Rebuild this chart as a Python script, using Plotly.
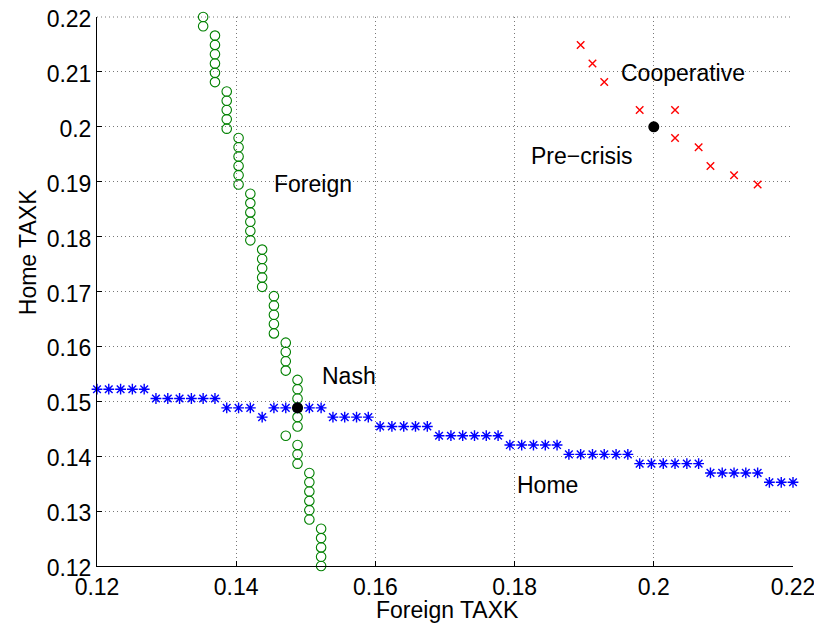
import plotly.graph_objects as go

# Home best response (blue stars): foreign tax on x, home tax on y
home_x = [0.12000, 0.12169, 0.12339, 0.12508, 0.12678, 0.12847, 0.13017, 0.13186, 0.13356, 0.13525,
          0.13695, 0.13864, 0.14034, 0.14203, 0.14373, 0.14542, 0.14712, 0.14881, 0.15051, 0.15220,
          0.15390, 0.15559, 0.15729, 0.15898, 0.16068, 0.16237, 0.16407, 0.16576, 0.16746, 0.16915,
          0.17085, 0.17254, 0.17424, 0.17593, 0.17763, 0.17932, 0.18102, 0.18271, 0.18441, 0.18610,
          0.18780, 0.18949, 0.19119, 0.19288, 0.19458, 0.19627, 0.19797, 0.19966, 0.20136, 0.20305,
          0.20475, 0.20644, 0.20814, 0.20983, 0.21153, 0.21322, 0.21492, 0.21661, 0.21831, 0.22000]
home_y = [0.15220, 0.15220, 0.15220, 0.15220, 0.15220,
          0.15051, 0.15051, 0.15051, 0.15051, 0.15051, 0.15051,
          0.14881, 0.14881, 0.14881,
          0.14712,
          0.14881, 0.14881, 0.14881, 0.14881, 0.14881,
          0.14712, 0.14712, 0.14712, 0.14712,
          0.14542, 0.14542, 0.14542, 0.14542, 0.14542,
          0.14373, 0.14373, 0.14373, 0.14373, 0.14373, 0.14373,
          0.14203, 0.14203, 0.14203, 0.14203, 0.14203,
          0.14034, 0.14034, 0.14034, 0.14034, 0.14034, 0.14034,
          0.13864, 0.13864, 0.13864, 0.13864, 0.13864, 0.13864,
          0.13695, 0.13695, 0.13695, 0.13695, 0.13695,
          0.13525, 0.13525, 0.13525]

# Foreign best response (green circles): home tax on y, foreign tax on x
foreign_y = list(home_x)
foreign_x = [0.15220, 0.15220, 0.15220, 0.15220, 0.15220,
             0.15051, 0.15051, 0.15051, 0.15051, 0.15051, 0.15051,
             0.14881, 0.14881, 0.14881,
             0.14712,
             0.14881, 0.14881, 0.14881, 0.14881, 0.14881, 0.14881,
             0.14712, 0.14712, 0.14712, 0.14712,
             0.14542, 0.14542, 0.14542, 0.14542, 0.14542,
             0.14373, 0.14373, 0.14373, 0.14373, 0.14373,
             0.14203, 0.14203, 0.14203, 0.14203, 0.14203, 0.14203,
             0.14034, 0.14034, 0.14034, 0.14034, 0.14034, 0.14034,
             0.13864, 0.13864, 0.13864, 0.13864, 0.13864,
             0.13695, 0.13695, 0.13695, 0.13695, 0.13695, 0.13695,
             0.13525, 0.13525]

# Cooperative points (red x)
coop_x = [0.18949, 0.19119, 0.19288, 0.19797, 0.20305, 0.20305, 0.20644, 0.20814, 0.21153, 0.21492]
coop_y = [0.21492, 0.21153, 0.20814, 0.20305, 0.20305, 0.19797, 0.19627, 0.19288, 0.19119, 0.18949]

# Equilibrium points (black dots): Nash and Pre-crisis
eq_x = [0.14881, 0.20]
eq_y = [0.14881, 0.20]

# Text labels
label_text = ["Foreign", "Nash", "Home", "Cooperative", "Pre\u2212crisis"]
label_x = [0.1451, 0.1520, 0.1800, 0.1950, 0.1820]
label_y = [0.1896, 0.1546, 0.1348, 0.2098, 0.1947]

x_title = "Foreign TAXK"
y_title = "Home TAXK"

tick_vals_x = [0.12, 0.14, 0.16, 0.18, 0.20, 0.22]
tick_text_x = ["0.12", "0.14", "0.16", "0.18", "0.2", "0.22"]
tick_vals_y = [0.12, 0.13, 0.14, 0.15, 0.16, 0.17, 0.18, 0.19, 0.20, 0.21, 0.22]
tick_text_y = ["0.12", "0.13", "0.14", "0.15", "0.16", "0.17", "0.18", "0.19", "0.2", "0.21", "0.22"]

FONT = "Liberation Sans, Arial, Helvetica, sans-serif"
FS = 23
GRID_COLOR = "rgb(120,120,120)"
GRID_DASH = "1px,3px"

fig = go.Figure()
fig.add_trace(go.Scatter(
    x=foreign_x, y=foreign_y, mode="markers",
    marker=dict(symbol="circle-open", size=9.5, color="rgb(0,128,0)", line=dict(width=1.1, color="rgb(0,128,0)")),
    cliponaxis=False, showlegend=False))
fig.add_trace(go.Scatter(
    x=home_x, y=home_y, mode="markers",
    marker=dict(symbol="asterisk-open", size=9, color="rgb(0,0,255)", line=dict(width=1.4, color="rgb(0,0,255)")),
    cliponaxis=False, showlegend=False))
fig.add_trace(go.Scatter(
    x=coop_x, y=coop_y, mode="markers",
    marker=dict(symbol="x-thin-open", size=7.5, color="rgb(255,0,0)", line=dict(width=1.4, color="rgb(255,0,0)")),
    cliponaxis=False, showlegend=False))
fig.add_trace(go.Scatter(
    x=eq_x, y=eq_y, mode="markers",
    marker=dict(symbol="circle", size=11, color="black"),
    cliponaxis=False, showlegend=False))

for t, xx, yy in zip(label_text, label_x, label_y):
    fig.add_annotation(x=xx, y=yy, text=t, showarrow=False, xanchor="left", yanchor="middle",
                       font=dict(family=FONT, size=FS, color="black"))

# axis titles
fig.add_annotation(x=0.17035, y=-0.0805, xref="x", yref="paper", text=x_title, showarrow=False,
                   xanchor="center", yanchor="middle", font=dict(family=FONT, size=FS, color="black"))
fig.add_annotation(x=-0.0988, y=0.1772, xref="paper", yref="y", text=y_title, showarrow=False,
                   textangle=-90, xanchor="center", yanchor="middle", font=dict(family=FONT, size=FS, color="black"))

# dotted grid line along the top edge (plotly omits the grid line at the plot boundary)
fig.add_shape(type="line", xref="paper", yref="paper", x0=0, x1=1, y0=1, y1=1,
              line=dict(color=GRID_COLOR, width=1, dash=GRID_DASH), layer="below")

axis_common = dict(
    showgrid=True, gridcolor=GRID_COLOR, gridwidth=1, griddash=GRID_DASH,
    zeroline=False, showline=True, linecolor="black", linewidth=1,
    ticks="inside", ticklen=5, tickcolor="black", tickwidth=1,
    tickfont=dict(family=FONT, size=FS, color="black"), automargin=False,
    ticklabeloverflow="allow",
)

fig.update_xaxes(range=[0.1199999, 0.2200001], tickvals=tick_vals_x, ticktext=tick_text_x, **axis_common)
fig.update_yaxes(range=[0.1199999, 0.2200001], tickvals=tick_vals_y, ticktext=tick_text_y,
                 ticklabelshift=2, **axis_common)

fig.update_layout(
    width=814, height=618,
    margin=dict(l=89, r=29, t=9, b=60),
    plot_bgcolor="white", paper_bgcolor="white",
    font=dict(family=FONT, size=FS, color="black"),
)

fig.write_html("out.html")
